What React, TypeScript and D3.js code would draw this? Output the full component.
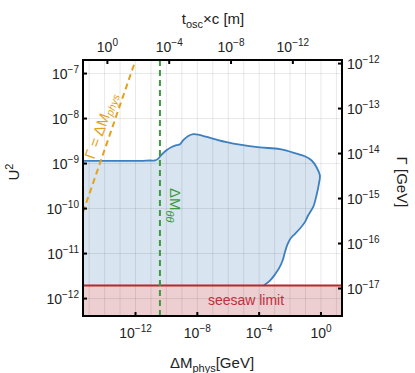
import React from "react";
import * as d3 from "d3";

// exponents used for ticks / grid
const xGridExps = d3.range(-15, 2);
const yGridExps = d3.range(-12, -6);
const xTickExps = [-12, -8, -4, 0];
const topTickExps = [0, -4, -8, -12];
const gammaTickExps = [-12, -13, -14, -15, -16, -17];

// sensitivity region boundary [ΔM_phys (GeV), U^2]
const regionCurve: [number, number][] = [
  [4.0e-16, 1.15e-9],
  [1.95e-12, 1.15e-9],
  [8.7e-12, 1.17e-9],
  [1.82e-11, 1.17e-9],
  [2.95e-11, 1.29e-9],
  [4.9e-11, 1.58e-9],
  [1.05e-10, 2.0e-9],
  [2.2e-10, 2.34e-9],
  [4.6e-10, 2.57e-9],
  [7.6e-10, 2.69e-9],
  [1.23e-9, 3.3e-9],
  [2.6e-9, 4.1e-9],
  [5.5e-9, 4.5e-9],
  [1.15e-8, 4.4e-9],
  [4.1e-8, 3.9e-9],
  [1.78e-7, 3.4e-9],
  [7.9e-7, 3.0e-9],
  [5.8e-6, 2.63e-9],
  [1.12e-4, 2.29e-9],
  [2.2e-3, 2.09e-9],
  [2.7e-2, 1.66e-9],
  [9.1e-2, 1.45e-9],
  [0.25, 1.17e-9],
  [0.52, 8.3e-10],
  [0.85, 5.5e-10],
  [0.74, 3.6e-10],
  [0.52, 2.0e-10],
  [0.32, 1.1e-10],
  [0.15, 7.1e-11],
  [9.1e-2, 5.0e-11],
  [4.4e-2, 3.6e-11],
  [2.1e-2, 2.75e-11],
  [1.1e-2, 2.2e-11],
  [6.8e-3, 1.6e-11],
  [4.6e-3, 1.05e-11],
  [3.3e-3, 7.0e-12],
  [2.0e-3, 4.8e-12],
  [1.1e-3, 3.5e-12],
  [5.0e-4, 2.5e-12],
  [2.0e-4, 1.95e-12],
];

const seesawU2 = 1.95e-12;
const deltaMthetaTheta = 3.8e-11;
// Γ = ΔM_phys line endpoints [ΔM, U^2]
const gammaEqLine: [number, number][] = [
  [4.0e-16, 8.3e-11],
  [1.07e-12, 2.1e-7],
];

// axis domains
const xDomain = [4.0e-16, 23];
const yDomain = [4.1e-13, 2.0e-7];
const gammaDomain = [2.45e-18, 1.2e-12];
const topDomain = [38, 6.6e-16];

const margin = { left: 83, right: 342, top: 60, bottom: 316 };

const font = "'Liberation Sans', Arial, sans-serif";

const Pow = ({ exp, ...rest }: any) => (
  <text fontFamily={font} fontSize={14} fill="#222" {...rest}>
    <tspan>10</tspan>
    <tspan dy={-6} fontSize={10}>
      {exp < 0 ? "\u2212" + Math.abs(exp) : exp}
    </tspan>
  </text>
);

export default function App() {
  const x = d3.scaleLog().domain(xDomain).range([margin.left, margin.right]);
  const y = d3.scaleLog().domain(yDomain).range([margin.bottom, margin.top]);
  const g = d3.scaleLog().domain(gammaDomain).range([margin.bottom, margin.top]);
  const t = d3.scaleLog().domain(topDomain).range([margin.left, margin.right]);

  const line = d3
    .line<[number, number]>()
    .x((d) => x(d[0]))
    .y((d) => y(d[1]))
    .curve(d3.curveCatmullRom);

  const last = regionCurve[regionCurve.length - 1];
  const areaPath =
    line(regionCurve) +
    `L${x(last[0])},${y(seesawU2)}L${x(xDomain[0])},${y(seesawU2)}Z`;

  const W = margin.right - margin.left;
  const H = margin.bottom - margin.top;

  return (
    <svg
      width={415}
      height={373}
      style={{ position: "absolute", left: 0, top: 0 }}
    >
      <defs>
        <clipPath id="plot">
          <rect x={margin.left} y={margin.top} width={W} height={H} />
        </clipPath>
      </defs>
      <g clipPath="url(#plot)">
        <path d={areaPath} fill="#d8e4ef" />
        <rect
          x={margin.left}
          y={y(seesawU2)}
          width={W}
          height={margin.bottom - y(seesawU2)}
          fill="#edcfd2"
        />
        {xGridExps.map((e) => (
          <line
            key={"gx" + e}
            x1={x(10 ** e)}
            x2={x(10 ** e)}
            y1={margin.top}
            y2={margin.bottom}
            stroke="#000"
            strokeOpacity={0.09}
          />
        ))}
        {yGridExps.map((e) => (
          <line
            key={"gy" + e}
            x1={margin.left}
            x2={margin.right}
            y1={y(10 ** e)}
            y2={y(10 ** e)}
            stroke="#000"
            strokeOpacity={0.09}
          />
        ))}
        <path d={line(regionCurve) || ""} fill="none" stroke="#3d7fbf" strokeWidth={1.8} />
        <line
          x1={margin.left}
          x2={margin.right}
          y1={y(seesawU2)}
          y2={y(seesawU2)}
          stroke="#b8272c"
          strokeWidth={2}
        />
        <line
          x1={x(gammaEqLine[0][0])}
          y1={y(gammaEqLine[0][1])}
          x2={x(gammaEqLine[1][0])}
          y2={y(gammaEqLine[1][1])}
          stroke="#e3a21c"
          strokeWidth={2}
          strokeDasharray="6,4"
        />
        <line
          x1={x(deltaMthetaTheta)}
          x2={x(deltaMthetaTheta)}
          y1={margin.top}
          y2={margin.bottom}
          stroke="#3d9a3d"
          strokeWidth={2}
          strokeDasharray="6,4"
        />
      </g>

      {/* annotations */}
      <text
        x={246}
        y={305}
        textAnchor="middle"
        fontFamily={font}
        fontSize={14}
        fill="#c0303a"
      >
        seesaw limit
      </text>
      <text
        transform={`translate(170,188) rotate(90)`}
        fontFamily={font}
        fontSize={15}
        fill="#3d9a3d"
      >
        <tspan>ΔM</tspan>
        <tspan dy={4} fontSize={11} fontStyle="italic">θθ</tspan>
      </text>
      <text
        transform={`translate(94,160) rotate(-70)`}
        fontFamily={font}
        fontSize={15}
        fill="#e3a21c"
      >
        <tspan>Γ = ΔM</tspan>
        <tspan dy={2.5} fontSize={10.5} fontStyle="italic">phys</tspan>
      </text>

      {/* frame */}
      <rect
        x={margin.left}
        y={margin.top}
        width={W}
        height={H}
        fill="none"
        stroke="#000"
        strokeWidth={2}
      />

      {/* left axis */}
      {yGridExps.map((e) => (
        <g key={"ly" + e}>
          <line x1={margin.left} x2={margin.left + 4} y1={y(10 ** e)} y2={y(10 ** e)} stroke="#000" strokeWidth={2} />
          <Pow exp={e} x={79} y={y(10 ** e) + 5} textAnchor="end" />
        </g>
      ))}
      {/* right axis */}
      {gammaTickExps.map((e) => (
        <g key={"ry" + e}>
          <line x1={margin.right - 4} x2={margin.right} y1={g(10 ** e)} y2={g(10 ** e)} stroke="#000" strokeWidth={2} />
          <Pow exp={e} x={347} y={g(10 ** e) + 5} textAnchor="start" />
        </g>
      ))}
      {/* bottom axis */}
      {xTickExps.map((e) => (
        <g key={"bx" + e}>
          <line x1={x(10 ** e)} x2={x(10 ** e)} y1={margin.bottom - 4} y2={margin.bottom} stroke="#000" strokeWidth={2} />
          <Pow exp={e} x={x(10 ** e)} y={338} textAnchor="middle" />
        </g>
      ))}
      {/* top axis */}
      {topTickExps.map((e) => (
        <g key={"tx" + e}>
          <line x1={t(10 ** e)} x2={t(10 ** e)} y1={margin.top} y2={margin.top + 4} stroke="#000" strokeWidth={2} />
          <Pow exp={e} x={t(10 ** e)} y={52} textAnchor="middle" />
        </g>
      ))}

      {/* axis titles */}
      <text x={212} y={368} textAnchor="middle" fontFamily={font} fontSize={15} fill="#222">
        <tspan>ΔM</tspan>
        <tspan dy={4} fontSize={11}>phys</tspan>
        <tspan dy={-4}>[GeV]</tspan>
      </text>
      <text x={213} y={24} textAnchor="middle" fontFamily={font} fontSize={15} fill="#222">
        <tspan>t</tspan>
        <tspan dy={4} fontSize={11}>osc</tspan>
        <tspan dy={-4}>×c [m]</tspan>
      </text>
      <text transform="translate(19,172) rotate(-90)" textAnchor="middle" fontFamily={font} fontSize={15} fill="#222">
        <tspan>U</tspan>
        <tspan dy={-6} fontSize={11}>2</tspan>
      </text>
      <text transform="translate(397,182) rotate(90)" textAnchor="middle" fontFamily={font} fontSize={15} fill="#222">
        Γ [GeV]
      </text>
    </svg>
  );
}
